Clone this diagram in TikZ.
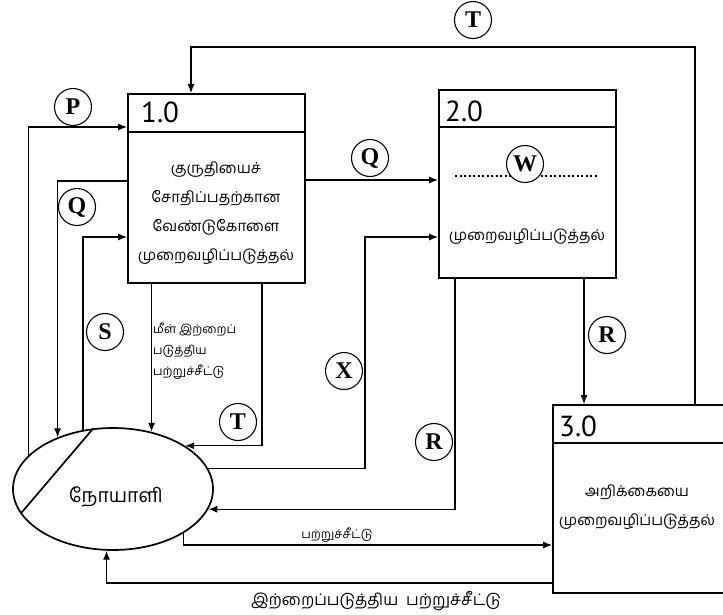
\documentclass[tikz,border=0pt]{standalone}
\usepackage{fontspec}
\newfontfamily\tam[Script=Tamil]{Hind Madurai}
\newfontfamily\numf{PT Sans}
\newfontfamily\letf{Liberation Serif}
\usetikzlibrary{arrows.meta,shapes.geometric}
\begin{document}
\begin{tikzpicture}[x=1pt,y=-1pt,
  proc/.style={draw,line width=1.7pt,minimum width=177pt,minimum height=189pt,inner sep=0pt},
  conn/.style={line width=1.3pt},
  arr/.style={conn,-{Latex[length=9pt,width=7pt]}},
  lab/.style={draw,circle,line width=1.1pt,minimum size=37pt,inner sep=0pt,fill=white,
    font=\letf\bfseries\fontsize{24}{24}\selectfont},
  hdr/.style={font=\numf\fontsize{29}{29}\selectfont,anchor=west,inner sep=0pt},
  ttext/.style={font=\tam\fontsize{15}{29}\selectfont,align=center,inner sep=0pt},
  stext/.style={font=\tam\fontsize{12}{21}\selectfont,inner sep=0pt},
]
\useasboundingbox (0,0) rectangle (723,614);
\clip (0,0) rectangle (723,614);
\fill[white] (0,0) rectangle (723,614);

% process boxes
\node[proc] (b1) at (216.5,188.5) {};
\node[proc,minimum height=188pt] (b2) at (527.5,184) {};
\node[proc,minimum height=188pt] (b3) at (641.5,499) {};
\draw[line width=1.7pt] ([yshift=-39pt]b1.north west) -- ([yshift=-39pt]b1.north east);
\draw[line width=1.7pt] ([yshift=-38pt]b2.north west) -- ([yshift=-38pt]b2.north east);
\draw[line width=1.7pt] ([yshift=-39pt]b3.north west) -- ([yshift=-39pt]b3.north east);
\node[hdr] (h1) at (141,112) {1.0};
\node[hdr] (h2) at (445,111) {2.0};
\node[hdr] (h3) at (559,426) {3.0};

\node[ttext] (t1) at (216,213) {குருதியைச்\\சோதிப்பதற்கான\\வேண்டுகோளை\\முறைவழிப்படுத்தல்};
\node[ttext] (t2) at (527,237) {முறைவழிப்படுத்தல்};
\node[ttext] (t3) at (637,507) {அறிக்கையை\\முறைவழிப்படுத்தல்};

% external entity
\node[draw,ellipse,line width=1.7pt,minimum width=200pt,minimum height=122pt,inner sep=0pt] (pat) at (113,489) {};
\draw[line width=1.7pt] (pat.108) -- (pat.195);
\node[font=\tam\fontsize{19.5}{19.5}\selectfont,inner sep=0pt] (patl) at (116,497) {நோயாளி};

% dotted line in 2.0
\draw[line width=2.2pt,dash pattern=on 2pt off 2.5pt] (455,176) -- (597,176);

% connectors
\draw[arr] (b3.north -| 695,0) -- (695,47) -| (b1.north -| 191,0);
\draw[arr] (pat.158) |- (b1.west |- 0,127);
\draw[arr] (b1.west |- 0,181) -| (pat.137);
\draw[arr] (pat.117) |- (b1.west |- 0,237);
\draw[arr] (b1.south -| pat.56) -- (pat.56);
\draw[arr] (b1.south -| 262,0) |- (pat.31);
\draw[arr] (pat.12) -| (365,237) -- (b2.west |- 0,237);
\draw[arr] (b2.south -| 455,0) |- (pat.-12);
\draw[arr] (b2.south -| 584,0) -- (b3.north -| 584,0);
\draw[arr] (pat.-32) |- (b3.west |- 0,545);
\draw[arr] (b3.west |- 0,583) -| (pat.-96);
\draw[arr] (b1.east |- 0,180) -- (b2.west |- 0,180);

% flow labels
\node[stext,anchor=west,align=left] (l1) at (153,351) {மீள் இற்றைப்\\படுத்திய\\பற்றுச்சீட்டு};
\node[stext] (l2) at (337,535) {பற்றுச்சீட்டு};
\node[stext,font=\tam\fontsize{16}{16}\selectfont] (l3) at (376,601) {இற்றைப்படுத்திய\ \ பற்றுச்சீட்டு};

% circled letters
\node[lab] (cP) at (73,107) {P};
\node[lab] (cQ1) at (77,207) {Q};
\node[lab] (cQ2) at (370,158) {Q};
\node[lab] (cT1) at (473,20) {T};
\node[lab] (cW) at (525,164) {W};
\node[lab] (cS) at (105,332) {S};
\node[lab] (cX) at (344,371) {X};
\node[lab] (cT2) at (238,422) {T};
\node[lab] (cR1) at (434,442) {R};
\node[lab] (cR2) at (607,335) {R};
\end{tikzpicture}
\end{document}
